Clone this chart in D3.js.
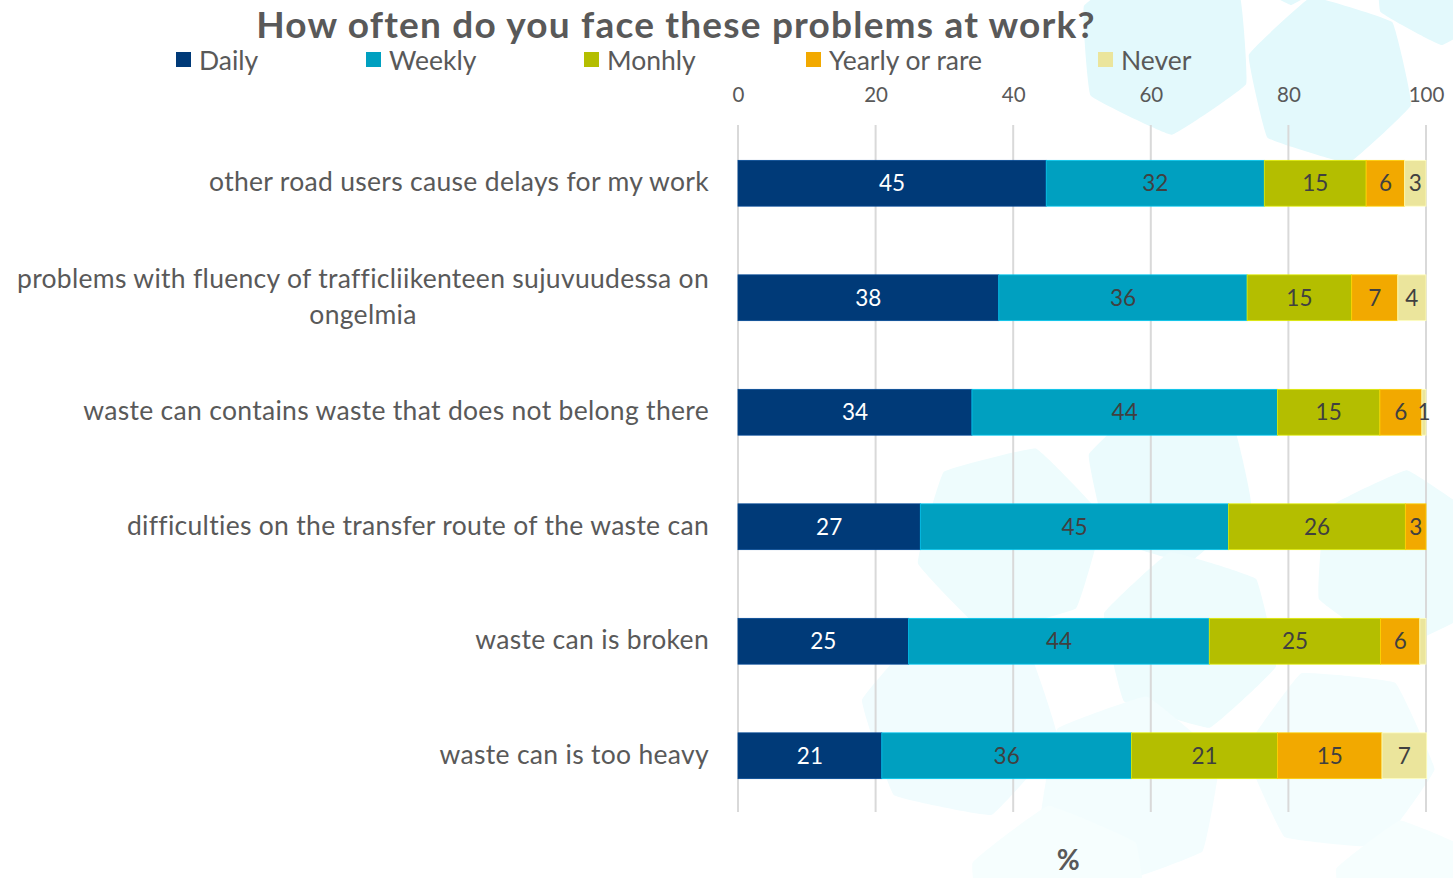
<!DOCTYPE html>
<html>
<head>
<meta charset="utf-8">
<script src="https://cdn.jsdelivr.net/npm/d3@7/dist/d3.min.js"></script>
<style>
  html, body { margin: 0; padding: 0; background: #ffffff; }
  svg { display: block; font-family: Lato, "Open Sans", sans-serif; }
</style>
</head>
<body>
<svg id="chart" width="1453" height="878"></svg>
<script>
// ---- data ----
const title = "How often do you face these problems at work?";
const categories = [
  "other road users cause delays for my work",
  "problems with fluency of trafficliikenteen sujuvuudessa on\nongelmia",
  "waste can contains waste that does not belong there",
  "difficulties on the transfer route of the waste can",
  "waste can is broken",
  "waste can is too heavy"
];
const seriesNames = ["Daily", "Weekly", "Monhly", "Yearly or rare", "Never"];
const daily   = [44.8, 37.9, 34.0, 26.5, 24.8, 20.9];
const weekly  = [31.7, 36.1, 44.4, 44.8, 43.7, 36.3];
const monthly = [14.8, 15.2, 14.9, 25.7, 24.9, 21.2];
const yearly  = [5.6, 6.7, 6.1, 3.0, 5.7, 15.2];
const never   = [3.1, 4.1, 0.6, 0.0, 0.9, 6.5];
// labels shown on the "Never" segments (null = no label)
const neverLabels = ["3", "4", "1", null, null, "7"];
const xTicks = [0, 20, 40, 60, 80, 100];
const axisTitle = "%";

const colors = ["#003a78", "#00a0c0", "#b4be00", "#f2a900", "#ebe59c"];
const labelColors = ["#ffffff", "#404040", "#404040", "#404040", "#404040"];

// ---- build ----
const svg = d3.select("#chart");
const W = 1453, H = 878;
const margin = { left: 738, right: 27, top: 125, bottom: 66 };
const seriesVals = [daily, weekly, monthly, yearly, never];

// background decoration (light hex shapes)
const bg = svg.append("g");
function hex(cx, cy, r, rot) {
  const pts = d3.range(6).map(i => {
    const a = rot + i * Math.PI / 3;
    return [cx + r * Math.cos(a), cy + r * Math.sin(a)];
  });
  return d3.line().curve(d3.curveCardinalClosed.tension(0.8))(pts);
}
const hexes = [
  [1165, 45, 90, 0.45, "#e3f9fc"],
  [1330, 80, 85, 0.3, "#e3f9fc"],
  [1440, -25, 70, 0.5, "#e3f9fc"],
  [1290, -40, 45, 0.5, "#e3f9fc"],
  [1170, 480, 85, 0.3, "#ebfbfd"],
  [1010, 540, 95, 0.8, "#eefcfd"],
  [1190, 640, 90, 0.3, "#eefcfd"],
  [1400, 560, 90, 0.6, "#eefcfd"],
  [960, 720, 100, 0.2, "#f1fcfe"],
  [1130, 790, 95, 0.7, "#f3fdfe"],
  [1340, 760, 95, 0.1, "#f3fdfe"],
  [1060, 900, 95, 0.4, "#f6fefe"],
  [1410, 900, 80, 0.4, "#f6fefe"]
];
hexes.forEach(h => bg.append("path").attr("d", hex(h[0], h[1], h[2], h[3])).attr("fill", h[4]));

const x = d3.scaleLinear().domain([0, 100]).range([margin.left, W - margin.right]);
const y = d3.scaleBand().domain(d3.range(categories.length)).range([margin.top, H - margin.bottom]).paddingInner(0.6).paddingOuter(0.3);

// gridlines
svg.append("g").selectAll("line").data(xTicks).join("line")
  .attr("x1", d => x(d)).attr("x2", d => x(d))
  .attr("y1", margin.top).attr("y2", H - margin.bottom)
  .attr("stroke", "#d9d9d9").attr("stroke-width", 2);

// top axis
const axis = d3.axisTop(x).tickValues(xTicks).tickSize(0).tickPadding(0);
const ag = svg.append("g").attr("transform", `translate(0, 102)`).call(axis);
ag.select(".domain").remove();
ag.selectAll("text").attr("font-size", 20.5).attr("fill", "#595959").attr("font-family", "Lato, sans-serif");

// stack
const rows = categories.map((c, i) => {
  const o = { i };
  seriesNames.forEach((s, k) => o[s] = seriesVals[k][i]);
  return o;
});
const stack = d3.stack().keys(seriesNames)(rows);

const segG = svg.append("g");
stack.forEach((layer, k) => {
  segG.append("g").selectAll("rect").data(layer).join("rect")
    .attr("x", d => x(d[0]))
    .attr("width", d => Math.max(0, x(d[1]) - x(d[0])))
    .attr("y", d => y(d.data.i) + 1)
    .attr("height", y.bandwidth())
    .attr("fill", colors[k])
    .attr("stroke", d3.color(colors[k]).brighter(0.6))
    .attr("stroke-width", 0.8);
});
stack.forEach((layer, k) => {
  segG.append("g").selectAll("text").data(layer.filter(d => d[1] - d[0] > 0)).join("text")
    .attr("x", d => (x(d[0]) + x(d[1])) / 2)
    .attr("y", d => y(d.data.i) + 1 + y.bandwidth() / 2)
    .attr("dy", "0.36em")
    .attr("text-anchor", "middle")
    .attr("font-size", 22.5)
    .attr("fill", labelColors[k])
    .text(d => k === 4 ? neverLabels[d.data.i] : Math.round(d[1] - d[0]));
});

// category labels
const catG = svg.append("g");
categories.forEach((c, i) => {
  const lines = c.split("\n");
  const cy = y(i) + y.bandwidth() / 2;
  const lh = 36;
  const t = catG.append("text")
    .attr("font-size", 26.5).attr("letter-spacing", 0.3).attr("fill", "#595959");
  const y0 = cy - (lines.length - 1) * lh / 2 + 1;
  lines.forEach((ln, j) => {
    t.append("tspan").attr("y", y0 + j * lh).attr("dy", "0.3em").text(ln);
  });
  const tspans = t.selectAll("tspan").nodes();
  const maxW = d3.max(tspans.map(n => n.getComputedTextLength()));
  const right = 709;
  tspans.forEach(n => d3.select(n).attr("x", right - maxW / 2).attr("text-anchor", "middle"));
});

// title
svg.append("text").attr("x", 676).attr("y", 38).attr("text-anchor", "middle")
  .attr("font-size", 37).attr("letter-spacing", 1.2).attr("font-weight", "bold").attr("fill", "#595959").text(title);

// legend
const legendX = [176, 366, 584, 806, 1098];
const lg = svg.append("g");
seriesNames.forEach((s, k) => {
  lg.append("rect").attr("x", legendX[k]).attr("y", 52).attr("width", 15).attr("height", 15).attr("fill", colors[k]);
  lg.append("text").attr("x", legendX[k] + 23).attr("y", 69.5).attr("font-size", 26.5).attr("fill", "#595959").text(s);
});

// axis title
svg.append("text").attr("x", x(48)).attr("y", 870).attr("text-anchor", "middle")
  .attr("font-size", 28).attr("font-weight", "bold").attr("fill", "#595959").text(axisTitle);
</script>
</body>
</html>
